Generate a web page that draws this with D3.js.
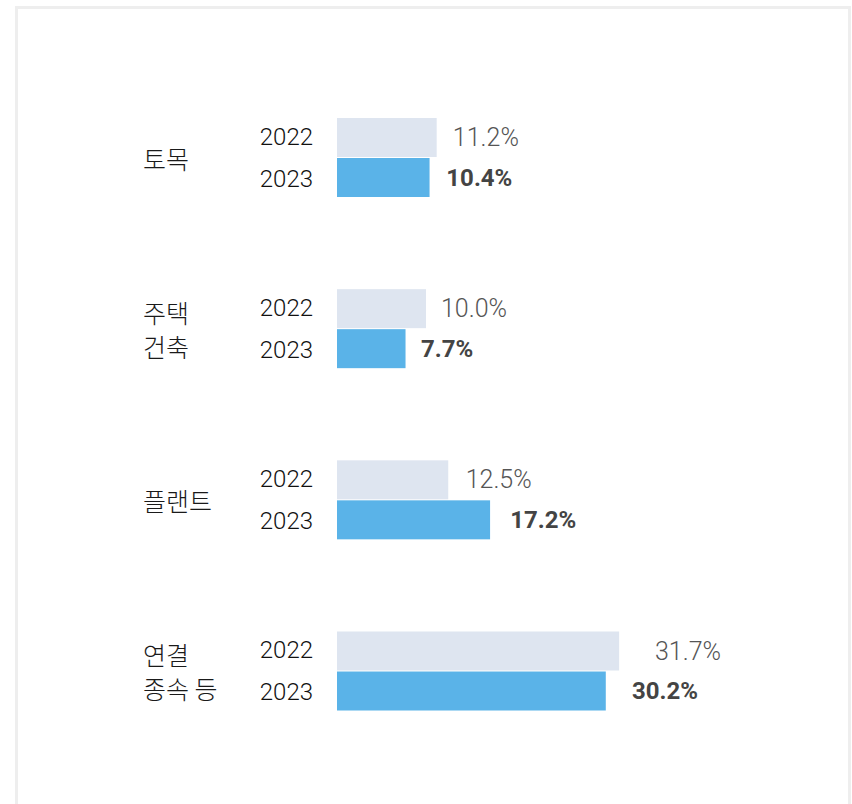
<!DOCTYPE html>
<html>
<head>
<meta charset="utf-8">
<script src="https://cdn.jsdelivr.net/npm/d3@7"></script>
<style>
  html, body { margin: 0; padding: 0; background: #ffffff; }
  svg { display: block; }
</style>
</head>
<body>
<svg id="chart" width="852" height="804"></svg>
<script>
const categories = [["토목"], ["주택", "건축"], ["플랜트"], ["연결", "종속 등"]];
const years = ["2022", "2023"];
const values2022 = [11.2, 10.0, 12.5, 31.7];
const values2023 = [10.4, 7.7, 17.2, 30.2];
const valueLabels2022 = ["11.2%", "10.0%", "12.5%", "31.7%"];
const valueLabels2023 = ["10.4%", "7.7%", "17.2%", "30.2%"];

const svg = d3.select("#chart");

// card border
svg.append("rect")
  .attr("x", 16.5).attr("y", 7.5)
  .attr("width", 833).attr("height", 840)
  .attr("fill", "#ffffff")
  .attr("stroke", "#eeeeee")
  .attr("stroke-width", 3);

const keys = categories.map(c => c.join(" "));
const y = d3.scalePoint().domain(keys).range([157.5, 671]);
const x = d3.scaleLinear().domain([0, 100]).range([337, 1227]);
const labelX2022 = d3.scaleLinear().domain([0, 100]).range([342.4, 1328.4]);
const labelX2023 = d3.scaleLinear().domain([0, 100]).range([348.8, 1286.8]);

const barH = 39;
const rows = keys.map((k, i) => ({
  key: k, lines: categories[i],
  v22: values2022[i], v23: values2023[i],
  l22: valueLabels2022[i], l23: valueLabels2023[i]
}));

const g = svg.selectAll("g.group").data(rows).join("g")
  .attr("class", "group")
  .attr("transform", d => `translate(0,${y(d.key)})`);

// category labels
g.each(function(d) {
  const sel = d3.select(this);
  const n = d.lines.length;
  d.lines.forEach((line, j) => {
    sel.append("text")
      .attr("x", 143)
      .attr("y", (j - (n - 1) / 2) * 34)
      .attr("dominant-baseline", "central")
      .attr("font-family", "'Noto Sans CJK KR', 'Noto Sans', sans-serif")
      .attr("font-size", 25)
      .attr("font-weight", 300)
      .attr("fill", "#1a1a1a")
      .text(line);
  });
});

// year labels
years.forEach((yr, j) => {
  g.append("text")
    .attr("x", 313).attr("y", j === 0 ? -21 : 21)
    .attr("text-anchor", "end")
    .attr("dominant-baseline", "central")
    .attr("font-family", "Roboto, sans-serif")
    .attr("font-size", 24)
    .attr("font-weight", 300)
    .attr("fill", "#111111")
    .text(yr);
});

// bars
g.append("rect")
  .attr("x", x(0)).attr("y", -barH - 0.5)
  .attr("width", d => x(d.v22) - x(0))
  .attr("height", barH)
  .attr("fill", "#dee5f0");
g.append("rect")
  .attr("x", x(0)).attr("y", 0.5)
  .attr("width", d => x(d.v23) - x(0))
  .attr("height", barH)
  .attr("fill", "#5ab3e8");

// value labels
g.append("text")
  .attr("x", d => labelX2022(d.v22))
  .attr("y", -barH / 2 - 0.5)
  .attr("dominant-baseline", "central")
  .attr("font-family", "Roboto, sans-serif")
  .attr("font-size", 25)
  .attr("font-weight", 300)
  .attr("fill", "#555555")
  .text(d => d.l22);
g.append("text")
  .attr("x", d => labelX2023(d.v23))
  .attr("y", barH / 2 + 0.5)
  .attr("dominant-baseline", "central")
  .attr("font-family", "Roboto, sans-serif")
  .attr("font-size", 24)
  .attr("font-weight", 700)
  .attr("fill", "#444444")
  .text(d => d.l23);
</script>
</body>
</html>
